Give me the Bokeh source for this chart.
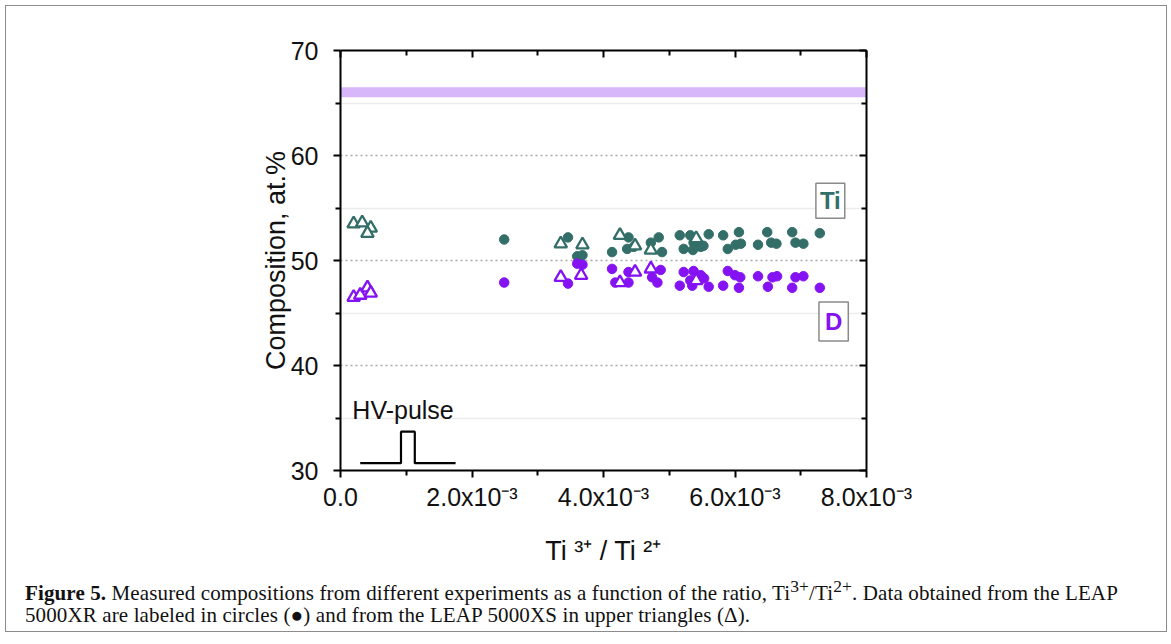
from bokeh.plotting import figure
from bokeh.models import (LinearAxis, FixedTicker, Label, BoxAnnotation, Div,
                          CustomJSTickFormatter)
from bokeh.layouts import column
from bokeh.embed import file_html
from bokeh.resources import INLINE

# ---------------- data (x in units of 1e-3) ----------------
ti_circ_x = [2.49, 3.46, 3.60, 3.68, 4.13, 4.38, 4.36, 4.46, 4.84, 4.72, 4.89,
             5.16, 5.22, 5.32, 5.37, 5.48, 5.36, 5.60, 5.52, 5.82, 5.89, 6.06,
             6.01, 6.09, 6.35, 6.49, 6.55, 6.63, 6.87, 6.92, 7.04, 7.29]
ti_circ_y = [52.0, 52.2, 50.4, 50.5, 50.8, 52.2, 51.1, 51.3, 52.2, 51.7, 50.8,
             52.4, 51.1, 52.4, 51.7, 51.3, 51.0, 52.5, 51.4, 52.4, 51.1, 52.7,
             51.5, 51.6, 51.5, 52.7, 51.7, 51.6, 52.7, 51.7, 51.6, 52.6]
d_circ_x = [2.49, 3.46, 3.60, 3.68, 4.13, 4.38, 4.18, 4.38, 4.87, 4.74, 4.82,
            5.16, 5.22, 5.37, 5.32, 5.48, 5.35, 5.53, 5.60, 5.89, 5.82, 6.00,
            6.08, 6.06, 6.35, 6.57, 6.64, 6.50, 6.92, 7.04, 6.87, 7.29]
d_circ_y = [47.9, 47.8, 49.7, 49.6, 49.2, 48.9, 47.9, 47.9, 49.1, 48.4, 47.9,
            47.6, 48.9, 49.0, 48.1, 48.6, 47.6, 48.3, 47.5, 49.0, 47.6, 48.6,
            48.4, 47.4, 48.5, 48.4, 48.5, 47.5, 48.4, 48.5, 47.4, 47.4]
ti_tri_x = [0.20, 0.33, 0.46, 0.41, 3.35, 3.68, 4.25, 4.48, 4.72, 5.41]
ti_tri_y = [53.5, 53.6, 53.1, 52.6, 51.6, 51.5, 52.4, 51.4, 51.0, 52.1]
d_tri_x = [0.20, 0.30, 0.41, 0.46, 3.35, 3.66, 4.25, 4.48, 4.72, 5.41]
d_tri_y = [46.5, 46.7, 47.4, 46.9, 48.4, 48.6, 47.9, 48.9, 49.2, 48.1]

band_low, band_high = 65.55, 66.5          # stoichiometric reference band
pulse_x = [0.30, 0.92, 0.92, 1.13, 1.13, 1.75]
pulse_y = [30.7, 30.7, 33.7, 33.7, 30.7, 30.7]

x_ticks = [0.0, 2.0, 4.0, 6.0, 8.0]
x_tick_labels = ["0.0", "2.0x10\u207b\u00b3", "4.0x10\u207b\u00b3", "6.0x10\u207b\u00b3", "8.0x10\u207b\u00b3"]
x_minor = [1.0, 3.0, 5.0, 7.0]
y_ticks = [30, 40, 50, 60, 70]
y_minor = [35, 45, 55, 65]

SCALE = 1e-3
TEAL = "#336e68"
PURPLE = "#8412f2"
FONT = "Liberation Sans"

def sc(v):
    return [a * SCALE for a in v]

p = figure(frame_width=526, frame_height=420, min_border_left=334,
           min_border_right=297, min_border_top=44, min_border_bottom=100,
           x_range=(0, 8 * SCALE), y_range=(30, 70),
           output_backend="svg", toolbar_location=None, x_axis_location=None,
           y_axis_location=None)
p.outline_line_color = None
p.background_fill_color = "white"
p.border_fill_color = "white"

xt = FixedTicker(ticks=sc(x_ticks), minor_ticks=sc(x_minor))
yt = FixedTicker(ticks=y_ticks, minor_ticks=y_minor)
blank = CustomJSTickFormatter(code="return ''")

bottom = LinearAxis(ticker=xt, axis_label="Ti \u00b3\u207a / Ti \u00b2\u207a")
bottom.major_label_overrides = {t * SCALE: s for t, s in zip(x_ticks, x_tick_labels)}
left = LinearAxis(ticker=yt, axis_label="Composition, at.%")
top = LinearAxis(ticker=xt, formatter=blank)
right = LinearAxis(ticker=yt, formatter=blank)

for ax in (bottom, left, top, right):
    ax.axis_line_width = 2
    ax.axis_line_color = "black"
    ax.major_tick_line_width = 2
    ax.minor_tick_line_width = 2
    ax.major_tick_line_color = "black"
    ax.minor_tick_line_color = "black"
    ax.major_label_text_font = FONT
    ax.major_label_text_font_size = "25px"
    ax.major_label_text_color = "#111111"
    ax.axis_label_text_font = FONT
    ax.axis_label_text_font_size = "27px"
    ax.axis_label_text_font_style = "normal"
    ax.axis_label_text_color = "#111111"
for ax in (bottom, left):
    ax.major_tick_in = 0
    ax.major_tick_out = 7
    ax.minor_tick_in = 0
    ax.minor_tick_out = 5
for ax in (top, right):
    ax.major_tick_in = 7
    ax.major_tick_out = 0
    ax.minor_tick_in = 5
    ax.minor_tick_out = 0
    ax.major_label_standoff = 0
bottom.major_label_standoff = 5
left.major_label_standoff = 15
bottom.axis_label_standoff = 22
left.axis_label_standoff = -3

p.add_layout(bottom, "below")
p.add_layout(left, "left")
p.add_layout(top, "above")
p.add_layout(right, "right")

p.xgrid.visible = False
p.ygrid.ticker = FixedTicker(ticks=[40, 50, 60], minor_ticks=y_minor)
p.ygrid.grid_line_color = "#a8a8a8"
p.ygrid.grid_line_dash = "2 3"
p.ygrid.grid_line_width = 1.5
p.ygrid.minor_grid_line_color = "#ececec"
p.ygrid.minor_grid_line_width = 1.5

p.add_layout(BoxAnnotation(bottom=band_low, top=band_high, fill_color="#d7b6f9",
                           fill_alpha=1.0, line_color=None, level="underlay"))

p.scatter(sc(ti_circ_x), ti_circ_y, marker="circle", size=9.5, color=TEAL)
p.scatter(sc(d_circ_x), d_circ_y, marker="circle", size=9.5, color=PURPLE)
p.scatter(sc(ti_tri_x), ti_tri_y, marker="triangle", size=12.5, fill_color="white",
          line_color=TEAL, line_width=2.3)
p.scatter(sc(d_tri_x), d_tri_y, marker="triangle", size=12.5, fill_color="white",
          line_color=PURPLE, line_width=2.3)

p.line(sc(pulse_x), pulse_y, line_color="black", line_width=2.2)
p.add_layout(Label(x=0.18 * SCALE, y=35.8, text="HV-pulse", text_font=FONT,
                   text_font_size="25px", text_color="#111111", text_baseline="middle"))

p.add_layout(Label(x=7.45 * SCALE, y=55.7, text="Ti", text_font=FONT,
                   text_font_size="24px", text_font_style="bold", text_color=TEAL,
                   text_align="center", text_baseline="middle",
                   border_line_color="#8a8a8a", border_line_width=1.5,
                   background_fill_color="white", padding=4))
p.add_layout(Label(x=7.50 * SCALE, y=44.2, text="D", text_font=FONT,
                   text_font_size="24px", text_font_style="bold", text_color=PURPLE,
                   text_align="center", text_baseline="middle",
                   border_line_color="#8a8a8a", border_line_width=1.5,
                   background_fill_color="white", padding=6))

cap = Div(text=("<b>Figure 5.</b> Measured compositions from different experiments as a "
                "function of the ratio, Ti<sup>3+</sup>/Ti<sup>2+</sup>. Data obtained from the LEAP"
                "<br>5000XR are labeled in circles (&#9679;) "
                "and from the LEAP 5000XS in upper triangles (&#916;)."),
          width=1150,
          styles={"font-family": "Liberation Serif", "font-size": "21px",
                  "line-height": "22px", "color": "#111", "padding-left": "14px",
                  "padding-top": "0px", "letter-spacing": "0.12px"})

layout = column(p, cap, styles={"border": "1.5px solid #8c8c8c"}, margin=(5, 5, 5, 5))

open("out.html", "w").write(file_html(layout, INLINE))
